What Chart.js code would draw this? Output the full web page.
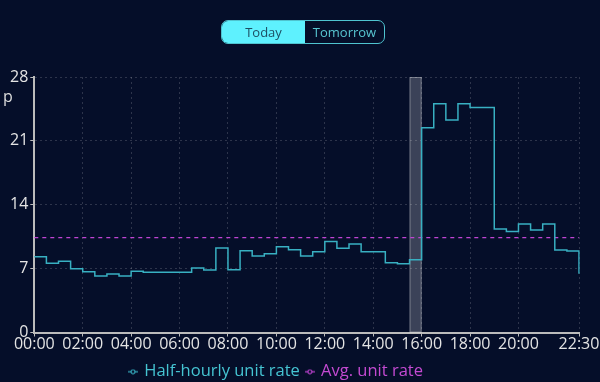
<!DOCTYPE html>
<html>
<head>
<meta charset="utf-8">
<script src="https://cdn.jsdelivr.net/npm/chart.js@4"></script>
<style>
  html, body { margin: 0; padding: 0; background: #050e29; }
  #wrap { position: relative; width: 600px; height: 382px; }
  #myChart { position: absolute; left: 0; top: 0; }
  .toggle {
    position: absolute; left: 221px; top: 20px; width: 164px; height: 24px;
    display: flex; border: 1px solid #4fc3cf; border-radius: 7px; overflow: hidden;
    box-sizing: border-box; font-family: 'Open Sans', sans-serif; font-size: 13px;
  }
  .toggle div { display: flex; align-items: center; justify-content: center; }
  .toggle .on { width: 83px; background: #5ef1fe; color: #1d4f63; }
  .toggle .off { flex: 1; color: #58c6d2; }
</style>
</head>
<body>
<div id="wrap">
  <canvas id="myChart" width="600" height="382"></canvas>
  <div class="toggle"><div class="on">Today</div><div class="off">Tomorrow</div></div>
</div>
<script>
'use strict';

let times = ['00:00', '00:30', '01:00', '01:30', '02:00', '02:30', '03:00', '03:30',
  '04:00', '04:30', '05:00', '05:30', '06:00', '06:30', '07:00', '07:30',
  '08:00', '08:30', '09:00', '09:30', '10:00', '10:30', '11:00', '11:30',
  '12:00', '12:30', '13:00', '13:30', '14:00', '14:30', '15:00', '15:30',
  '16:00', '16:30', '17:00', '17:30', '18:00', '18:30', '19:00', '19:30',
  '20:00', '20:30', '21:00', '21:30', '22:00', '22:30'];

let unitRates = [8.3, 7.6, 7.8, 7.0, 6.66, 6.2, 6.4, 6.2,
  6.7, 6.6, 6.6, 6.6, 6.6, 7.06, 6.84, 9.26,
  6.88, 8.97, 8.38, 8.64, 9.4, 9.08, 8.38, 8.86,
  9.96, 9.22, 9.7, 8.86, 8.86, 7.65, 7.54, 7.98,
  22.43, 25.07, 23.3, 25.07, 24.67, 24.67, 11.35, 11.06,
  11.9, 11.24, 11.9, 9.04, 8.93, 6.44];

let avgRate = 10.4;
let tickLabels = ['00:00', '02:00', '04:00', '06:00', '08:00', '10:00', '12:00',
  '14:00', '16:00', '18:00', '20:00', '22:30'];
let yTicks = [0, 7, 14, 21, 28];
let nowSlot = '15:30';

let rateColor = '#38b0c2';
let avgColor = '#c044d4';
let fontName = "'Open Sans', sans-serif";

// small "-o-" icon used in the legend
function legendIcon(color) {
  let c = document.createElement('canvas');
  c.width = 10;
  c.height = 6;
  let g = c.getContext('2d');
  g.strokeStyle = color;
  g.lineWidth = 1.2;
  g.beginPath();
  g.moveTo(0, 3);
  g.lineTo(10, 3);
  g.stroke();
  g.fillStyle = '#050e29';
  g.beginPath();
  g.arc(5, 3, 2, 0, Math.PI * 2);
  g.fill();
  g.stroke();
  return c;
}

// grey band for the current half hour
let nowBand = {
  id: 'nowBand',
  beforeDatasetsDraw(chart) {
    let x = chart.scales.x;
    let area = chart.chartArea;
    let i = times.indexOf(nowSlot);
    let x1 = x.getPixelForValue(i);
    let x2 = x.getPixelForValue(i + 1);
    let ctx = chart.ctx;
    ctx.save();
    ctx.fillStyle = 'rgba(255,255,255,0.22)';
    ctx.fillRect(x1, area.top, x2 - x1, area.bottom - area.top);
    ctx.strokeStyle = 'rgba(255,255,255,0.3)';
    ctx.lineWidth = 1;
    ctx.strokeRect(x1 + 0.5, area.top + 0.5, x2 - x1 - 1, area.bottom - area.top - 1);
    ctx.restore();
  }
};

// the "p" unit at the top of the y axis
let unitLabel = {
  id: 'unitLabel',
  afterDraw(chart) {
    let ctx = chart.ctx;
    ctx.save();
    ctx.fillStyle = '#dddddd';
    ctx.font = '16px ' + fontName;
    ctx.textBaseline = 'alphabetic';
    ctx.fillText('p', 3, chart.chartArea.top + 25);
    ctx.restore();
  }
};

// legend sits a bit left of centre and lower in the original
let legendShift = {
  id: 'legendShift',
  afterLayout(chart) {
    chart.legend.left -= 17;
    chart.legend.right -= 17;
    chart.legend.top += 4;
    chart.legend.bottom += 4;
  }
};

let ctx = document.getElementById('myChart').getContext('2d');

let chart = new Chart(ctx, {
  type: 'line',
  data: {
    labels: times,
    datasets: [
      {
        label: 'Half-hourly unit rate',
        data: unitRates,
        stepped: true,
        borderColor: rateColor,
        borderWidth: 1.5,
        pointRadius: 0,
        fill: false
      },
      {
        label: 'Avg. unit rate',
        data: times.map(() => avgRate),
        borderColor: avgColor,
        borderWidth: 1.3,
        borderDash: [4, 4],
        pointRadius: 0,
        fill: false
      }
    ]
  },
  options: {
    responsive: false,
    animation: false,
    layout: { padding: { top: 77, left: 8, right: 21, bottom: -4 } },
    scales: {
      x: {
        afterBuildTicks: function (scale) {
          scale.ticks = tickLabels.map((t) => ({ value: times.indexOf(t) }));
        },
        ticks: {
          autoSkip: false,
          maxRotation: 0,
          padding: 0,
          color: '#e4e4e4',
          font: { family: fontName, size: 16, lineHeight: 1 },
          callback: function (val) {
            return times[val];
          }
        },
        grid: {
          color: 'rgba(255,255,255,0.16)',
          tickColor: '#bbbbbb',
          tickLength: 4,
          lineWidth: 1
        },
        border: { color: '#bbbbbb', width: 2, dash: [2, 3] }
      },
      y: {
        min: 0,
        max: 28,
        afterBuildTicks: function (scale) {
          scale.ticks = yTicks.map((v) => ({ value: v }));
        },
        ticks: {
          padding: 2,
          color: '#e4e4e4',
          font: { family: fontName, size: 16 }
        },
        grid: {
          color: 'rgba(255,255,255,0.16)',
          tickColor: '#bbbbbb',
          tickLength: 4
        },
        border: { color: '#bbbbbb', width: 2, dash: [2, 3] }
      }
    },
    plugins: {
      legend: {
        position: 'bottom',
        labels: {
          usePointStyle: true,
          pointStyleWidth: 6,
          padding: 7,
          font: { family: fontName, size: 16.5 },
          generateLabels: function (chart) {
            return chart.data.datasets.map((ds, i) => ({
              text: ds.label,
              fontColor: i === 0 ? '#45c4d2' : '#c44ad2',
              pointStyle: legendIcon(i === 0 ? rateColor : avgColor),
              strokeStyle: ds.borderColor,
              fillStyle: ds.borderColor,
              lineWidth: 0,
              datasetIndex: i
            }));
          }
        }
      },
      tooltip: { enabled: false }
    }
  },
  plugins: [nowBand, unitLabel, legendShift]
});
</script>
</body>
</html>
